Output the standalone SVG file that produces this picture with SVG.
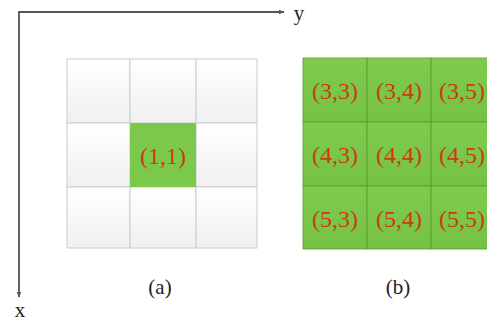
<svg xmlns="http://www.w3.org/2000/svg" width="487" height="323" viewBox="0 0 487 323">
<defs>
<linearGradient id="cellg" x1="0" y1="0" x2="0" y2="1">
<stop offset="0" stop-color="#ffffff"/>
<stop offset="1" stop-color="#f0f0f0"/>
</linearGradient>
<linearGradient id="greeng" x1="0" y1="0" x2="0" y2="1">
<stop offset="0" stop-color="#80cb4e"/>
<stop offset="1" stop-color="#74c244"/>
</linearGradient>
<marker id="ah" viewBox="0 0 10 10" refX="9" refY="5" markerWidth="6" markerHeight="6" orient="auto" markerUnits="userSpaceOnUse">
<path d="M0,1 L10,5 L0,9 Z" fill="#555"/>
</marker>
<style>
.cell{fill:url(#cellg);stroke:#cccccc;stroke-width:1}
.gcell{fill:url(#greeng);stroke:#5a9a34;stroke-width:0.8}
.acell{fill:#7cc84a;stroke:none}
.lbl{font-family:"Liberation Serif","Times New Roman",serif;font-size:24px;fill:#c83c14;text-anchor:middle}
.cap{font-family:"Liberation Serif","Times New Roman",serif;font-size:21px;fill:#222;text-anchor:middle}
.axis{stroke:#555;stroke-width:1.8;fill:none}
</style>
</defs>
<g id="connectors">
<path class="axis" d="M19,12 H284" marker-end="url(#ah)"/>
<path class="axis" d="M19,11 V297" marker-end="url(#ah)"/>
</g>
<text class="cap" x="299" y="20">y</text>
<text class="cap" x="20" y="317">x</text>
<g id="gridA">
<rect class="cell" x="67" y="59" width="63" height="64"/>
<rect class="cell" x="130" y="59" width="66" height="64"/>
<rect class="cell" x="196" y="59" width="61" height="64"/>
<rect class="cell" x="67" y="123" width="63" height="64"/>
<rect class="cell" x="196" y="123" width="61" height="64"/>
<rect class="cell" x="67" y="187" width="63" height="61"/>
<rect class="cell" x="130" y="187" width="66" height="61"/>
<rect class="cell" x="196" y="187" width="61" height="61"/>
</g>
<g id="cellA11">
<rect class="acell" x="130" y="123" width="66" height="64"/>
<text class="lbl" x="163" y="164">(1,1)</text>
</g>
<g id="gridB">
<rect class="gcell" x="303" y="58" width="64" height="64"/>
<text class="lbl" x="335" y="99">(3,3)</text>
<rect class="gcell" x="367" y="58" width="64" height="64"/>
<text class="lbl" x="399" y="99">(3,4)</text>
<rect class="gcell" x="431" y="58" width="64" height="64"/>
<text class="lbl" x="462" y="99">(3,5)</text>
<rect class="gcell" x="303" y="122" width="64" height="64"/>
<text class="lbl" x="335" y="163">(4,3)</text>
<rect class="gcell" x="367" y="122" width="64" height="64"/>
<text class="lbl" x="399" y="163">(4,4)</text>
<rect class="gcell" x="431" y="122" width="64" height="64"/>
<text class="lbl" x="462" y="163">(4,5)</text>
<rect class="gcell" x="303" y="186" width="64" height="63"/>
<text class="lbl" x="335" y="227">(5,3)</text>
<rect class="gcell" x="367" y="186" width="64" height="63"/>
<text class="lbl" x="399" y="227">(5,4)</text>
<rect class="gcell" x="431" y="186" width="64" height="63"/>
<text class="lbl" x="462" y="227">(5,5)</text>
</g>
<text class="cap" x="160" y="294">(a)</text>
<text class="cap" x="398" y="294">(b)</text>
</svg>
